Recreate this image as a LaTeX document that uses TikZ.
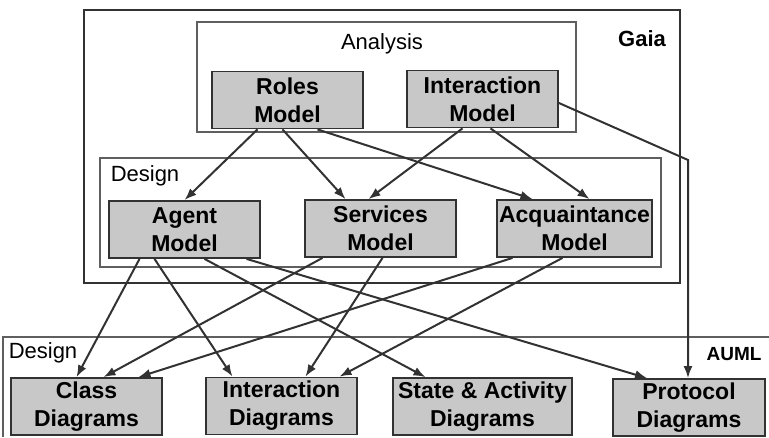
\documentclass[tikz,border=0pt]{standalone}
\usepackage{fontspec}
\setmainfont{Liberation Sans}
\usetikzlibrary{shapes,arrows.meta}

\definecolor{boxfill}{RGB}{200,200,200}
\definecolor{linegray}{RGB}{50,50,50}
\definecolor{framegray}{RGB}{95,95,95}

\tikzset{
  model/.style={draw=linegray, line width=1.8pt, fill=boxfill, minimum width=151pt,
    minimum height=57pt, inner sep=0pt, align=center,
    font=\fontsize{23}{28}\selectfont\bfseries},
  frame/.style={draw=framegray, line width=1.5pt},
  lbl/.style={font=\fontsize{22}{24}\selectfont},
  tag/.style={font=\fontsize{19}{20}\selectfont\bfseries},
  arr/.style={draw=linegray, line width=2pt, -{Latex[length=12pt,width=9pt]}}
}

\begin{document}
\begin{tikzpicture}[x=1pt,y=-1pt]
\useasboundingbox (0,0) rectangle (769,437);
% frames
\draw [line width=1.8pt, linegray] (84,10) rectangle (680,283);
\draw [frame] (197,22) rectangle (576,132);
\draw [frame] (100,158) rectangle (661,267);
\draw [frame] (769,337) -- (3,337) -- (3,437);
\node[tag, font=\fontsize{22}{24}\selectfont\bfseries] (gaia) at (642,39) {Gaia};
\node[tag] (auml) at (734,354) {AUML};
\node[lbl] (analysis) at (382,44) {Analysis};
\node[lbl] (design) at (145,176) {Design};
\node[lbl] (design2) at (43,353) {Design};
% Gaia models
\node[model] (roles) at (287.5,100) {Roles\\Model};
\node[model] (interaction) at (482.5,99) {Interaction\\Model};
\node[model] (agent) at (184.5,229.5) {Agent\\Model};
\node[model] (services) at (380.5,228.5) {Services\\Model};
\node[model, minimum width=155pt] (acquaint) at (574.5,228.5) {Acquaintance\\Model};
% AUML diagrams
\node[model] (class) at (86.5,406.5) {Class\\Diagrams};
\node[model] (interdiag) at (281.5,406) {Interaction\\Diagrams};
\node[model, minimum width=179pt] (state) at (482.5,406.5) {State \& Activity\\Diagrams};
\node[model, minimum width=152pt] (protocol) at (689,407.5) {Protocol\\Diagrams};
% links
\foreach \src/\sx/\dst/\dx in {roles/-30/agent/0, roles/-5/services/-35, roles/30/acquaint/-42,
    interaction/-20/services/-12, interaction/8/acquaint/15,
    agent/-45/class/-10, agent/-30/interdiag/-49, agent/20/state/-57, agent/62/protocol/-42,
    services/-58/class/17, services/2/interdiag/24,
    acquaint/-62/class/52, acquaint/-12/interdiag/58} {
  \draw[arr] ([xshift=\sx]\src.south) -- ([xshift=\dx]\dst.north);
}
\coordinate (bend) at (688,160);
\draw[arr] ([yshift=-4]interaction.east) -- (bend) -- (protocol.north -| bend);
\end{tikzpicture}
\end{document}
